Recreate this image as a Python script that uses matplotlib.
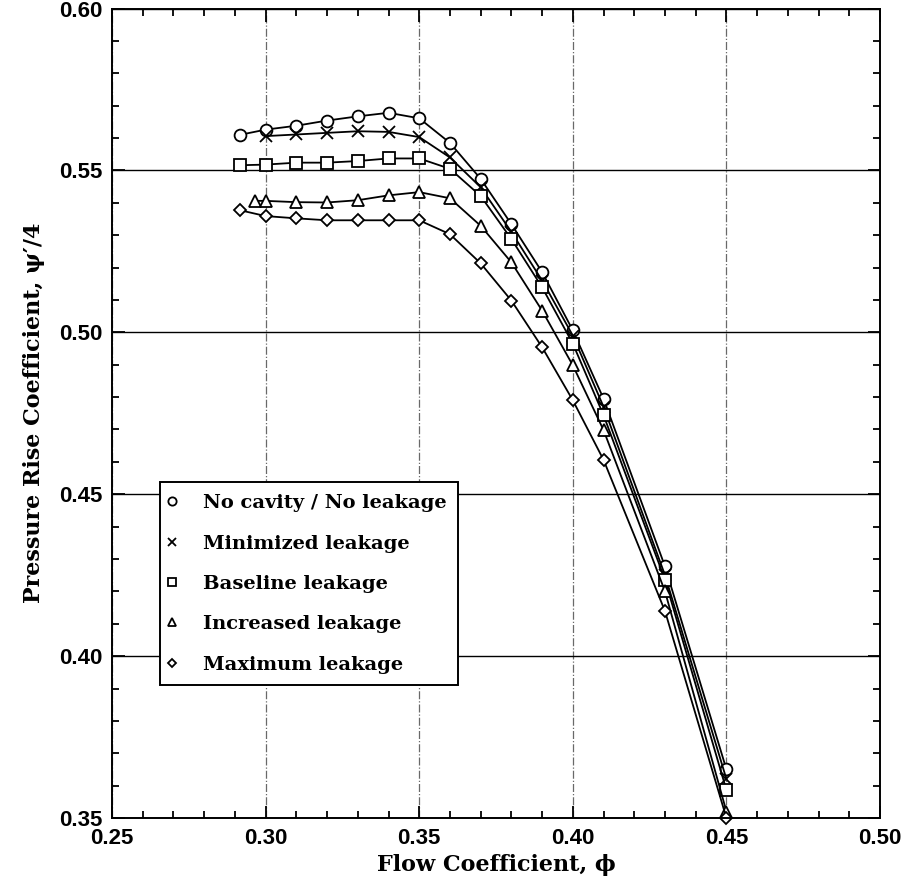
import matplotlib.pyplot as plt
from matplotlib.ticker import MultipleLocator

# flow coefficient values for each curve
phi_none = [0.2917, 0.30, 0.31, 0.32, 0.33, 0.34, 0.35, 0.36, 0.37, 0.38, 0.39, 0.40, 0.41, 0.43, 0.45]
psi_none = [0.5610, 0.5626, 0.5638, 0.5654, 0.5667, 0.5678, 0.5661, 0.5585, 0.5474, 0.5334, 0.5186, 0.5006, 0.4795, 0.4277, 0.3650]

phi_min = [0.30, 0.31, 0.32, 0.33, 0.34, 0.35, 0.36, 0.37, 0.38, 0.39, 0.40, 0.41, 0.43, 0.45]
psi_min = [0.5606, 0.5611, 0.5616, 0.5621, 0.5619, 0.5603, 0.5540, 0.5448, 0.5310, 0.5160, 0.4990, 0.4770, 0.4250, 0.3620]

phi_base = [0.2917, 0.30, 0.31, 0.32, 0.33, 0.34, 0.35, 0.36, 0.37, 0.38, 0.39, 0.40, 0.41, 0.43, 0.45]
psi_base = [0.5516, 0.5518, 0.5524, 0.5524, 0.5529, 0.5537, 0.5537, 0.5505, 0.5421, 0.5288, 0.5139, 0.4965, 0.4744, 0.4236, 0.3586]

phi_inc = [0.2967, 0.30, 0.31, 0.32, 0.33, 0.34, 0.35, 0.36, 0.37, 0.38, 0.39, 0.40, 0.41, 0.43, 0.45]
psi_inc = [0.5406, 0.5406, 0.5402, 0.5401, 0.5408, 0.5423, 0.5433, 0.5414, 0.5329, 0.5216, 0.5067, 0.4898, 0.4698, 0.4200, 0.3520]

phi_max = [0.2917, 0.30, 0.31, 0.32, 0.33, 0.34, 0.35, 0.36, 0.37, 0.38, 0.39, 0.40, 0.41, 0.43, 0.45]
psi_max = [0.5377, 0.5359, 0.5352, 0.5346, 0.5346, 0.5346, 0.5346, 0.5303, 0.5213, 0.5098, 0.4954, 0.4790, 0.4606, 0.4139, 0.3500]

labels = ['No cavity / No leakage', 'Minimized leakage', 'Baseline leakage',
          'Increased leakage', 'Maximum leakage']

fig = plt.figure(figsize=(9.13, 8.88), dpi=100)
ax = fig.add_axes([0.1227, 0.0788, 0.8412, 0.9116])

kw = dict(color='black', lw=1.3, mfc='white', mec='black', mew=1.3, clip_on=False)
ax.plot(phi_none, psi_none, marker='o', ms=8.5, label=labels[0], **kw)
ax.plot(phi_min, psi_min, marker='x', ms=8.5, label=labels[1], **kw)
ax.plot(phi_base, psi_base, marker='s', ms=8.5, label=labels[2], **kw)
ax.plot(phi_inc, psi_inc, marker='^', ms=8.5, label=labels[3], **kw)
ax.plot(phi_max, psi_max, marker='D', ms=6.5, label=labels[4], **kw)

ax.set_xlim(0.25, 0.50)
ax.set_ylim(0.35, 0.60)
ax.xaxis.set_major_locator(MultipleLocator(0.05))
ax.xaxis.set_minor_locator(MultipleLocator(0.01))
ax.yaxis.set_major_locator(MultipleLocator(0.05))
ax.yaxis.set_minor_locator(MultipleLocator(0.01))
ax.tick_params(which='both', direction='in', top=True, right=True, width=1.3)
ax.tick_params(which='major', length=9, labelsize=16, pad=7)
ax.tick_params(which='minor', length=5)
ax.xaxis.set_major_formatter(plt.FormatStrFormatter('%.2f'))
ax.yaxis.set_major_formatter(plt.FormatStrFormatter('%.2f'))
for lab in ax.get_xticklabels() + ax.get_yticklabels():
    lab.set_fontfamily('Liberation Sans')
    lab.set_fontweight('bold')

ax.grid(axis='y', which='major', color='black', lw=1.0, ls='-')
ax.grid(axis='x', which='major', color='dimgray', lw=0.9, ls='-.')
for s in ax.spines.values():
    s.set_linewidth(1.4)

ax.set_xlabel('Flow Coefficient, ϕ', fontsize=16, family='DejaVu Serif',
              fontweight='bold', labelpad=4)
ax.set_ylabel('Pressure Rise Coefficient, ψ′/4', fontsize=16, family='DejaVu Serif',
              fontweight='bold', labelpad=10)

leg = ax.legend(loc='lower left', bbox_to_anchor=(0.0625, 0.164), borderaxespad=0,
                fancybox=False, edgecolor='black', framealpha=1, handlelength=0,
                handletextpad=1.6, markerscale=0.7,
                prop={'family': 'DejaVu Serif', 'size': 14, 'weight': 'bold'},
                borderpad=0.6, labelspacing=1.15)
leg.get_frame().set_linewidth(1.4)

plt.savefig('out.png', dpi=100)
